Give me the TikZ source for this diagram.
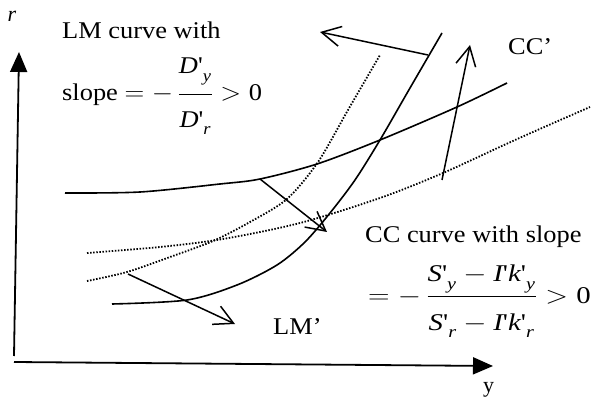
\documentclass[tikz,border=0pt]{standalone}
\usepackage{amsmath}
\usepackage{graphicx}
\usepackage{fontspec}
\setmainfont{Liberation Serif}
\usepackage{tikz}
\usetikzlibrary{arrows.meta}

\newcommand{\dv}[2]{\text{\itshape #1\upshape\textquotesingle}_{\text{\raisebox{-4pt}{\itshape #2}}}}
\newcommand{\ipr}{\text{\itshape I\upshape\textquotesingle}}
\newcommand{\wide}[1]{\scalebox{1.1}[1]{#1}}

\tikzset{
  lbl/.style={inner sep=0pt, font=\fontsize{24}{28}\selectfont},
  curve/.style={line width=1.6pt},
  shifted/.style={line width=1.8pt, dash pattern=on 1.5pt off 1.6pt},
  axis/.style={line width=1.8pt, -{Triangle[length=20pt,width=17pt]}},
  move/.style={line width=1.5pt, -{Straight Barb[length=19pt,width=20pt]}}
}

\begin{document}
\begin{tikzpicture}[x=1pt,y=-1pt]
                \useasboundingbox (0,0) rectangle (595,401);
                % axes
                \coordinate (origin) at (14,356);
                \coordinate (rtop) at (19,52);
                \coordinate (yleft) at (14,362);
                \coordinate (yright) at (493,366);
                \draw[axis] (origin) -- (rtop);
                \draw[axis] (yleft) -- (yright);
                \node[lbl, font=\fontsize{22}{26}\selectfont\itshape] (rlabel) at (12,16) {r};
                \node[lbl, font=\fontsize{22}{26}\selectfont, anchor=base west] (ylabel) at (483,392) {y};
                % CC and CC'
                \draw[curve] plot[smooth] coordinates {(65,193) (140,192) (220,184) (260,179) (317,164) (380,140) (457,107) (507,83)};
                \draw[shifted] plot[smooth] coordinates {(87,253) (160,247) (223,239) (300,223) (380,198) (443,173) (515,140) (590,107)};
                % LM and LM'
                \draw[curve] plot[smooth] coordinates {(112,304) (187,300) (237,285) (277,265) (305,242) (330,213) (355,180) (380,140) (410,88) (442,33)};
                \draw[shifted] plot[smooth] coordinates {(87,281) (127,272) (170,257) (213,241) (250,222) (287,199) (318,162) (348,110) (380,55)};
                % shifts
                \coordinate (lmA) at (428,55);
                \coordinate (lmB) at (320,32);
                \coordinate (ccA) at (442,180);
                \coordinate (ccB) at (470,45);
                \coordinate (midA) at (260,179);
                \coordinate (midB) at (327,232);
                \coordinate (lowA) at (128,274);
                \coordinate (lowB) at (235,324);
                \draw[move] (lmA) -- (lmB);
                \draw[move] (ccA) -- (ccB);
                \draw[move] (midA) -- (midB);
                \draw[move] (lowA) -- (lowB);
                % labels
                \node[lbl, anchor=base west] (lmtitle) at (62,39) {\wide{LM curve with}};
                \node[lbl, anchor=base west] (lmslope) at (62,101) {\wide{slope $= -\,\dfrac{\dv{D}{y}\rule[-18pt]{0pt}{0pt}}{\rule{0pt}{29pt}\dv{D}{r}} > \text{0}$}};
                \node[lbl, anchor=base west] (ccprime) at (508,55) {\wide{CC’}};
                \node[lbl, anchor=base west] (lmprime) at (273,334) {\wide{LM’}};
                \node[lbl, anchor=base west] (cctitle) at (365,243) {\wide{CC curve with slope}};
                \node[lbl, anchor=base west] (ccslope) at (368,303) {\scalebox{1.2}[1]{$= -\,\dfrac{\dv{S}{y} - \ipr\dv{k}{y}}{\rule{0pt}{30pt}\dv{S}{r} - \ipr\dv{k}{r}} > \text{0}$}};
            \end{tikzpicture}
\end{document}
